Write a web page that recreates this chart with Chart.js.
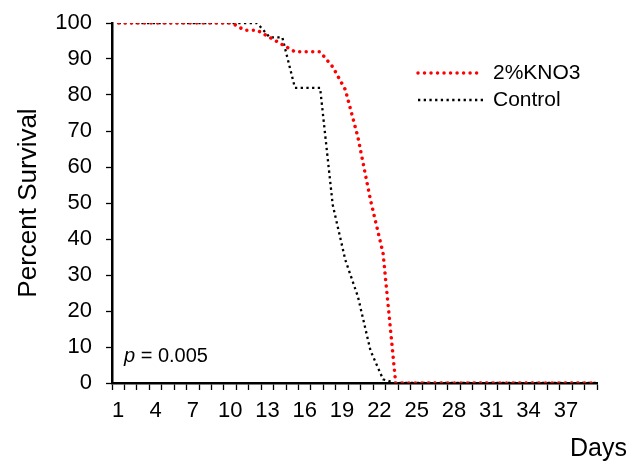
<!DOCTYPE html>
<html>
<head>
<meta charset="utf-8">
<script src="https://cdn.jsdelivr.net/npm/chart.js@4/dist/chart.umd.min.js"></script>
<style>
  html, body { margin: 0; padding: 0; background: #fff; }
</style>
</head>
<body>
<canvas id="myChart" width="633" height="464"></canvas>
<script>
const days = ['1', '2', '3', '4', '5', '6', '7', '8', '9', '10',
              '11', '12', '13', '14', '15', '16', '17', '18', '19', '20',
              '21', '22', '23', '24', '25', '26', '27', '28', '29', '30',
              '31', '32', '33', '34', '35', '36', '37', '38', '39'];

const kno3 = [100, 100, 100, 100, 100, 100, 100, 100, 100, 100,
              98, 98, 96, 94, 92, 92, 92, 87.8, 81.5, 68.3,
              50.8, 36, 0, 0, 0, 0, 0, 0, 0, 0,
              0, 0, 0, 0, 0, 0, 0, 0, 0];

const control = [100, 100, 100, 100, 100, 100, 100, 100, 100, 100,
                 100, 100, 96, 96, 82, 82, 82, 49.5, 34.2, 24,
                 9, 1, 0, 0, 0, 0, 0, 0, 0, 0,
                 0, 0, 0, 0, 0, 0, 0, 0, 0];

const seriesNames = ['2%KNO3', 'Control'];
const pValue = '0.005';

const FONT = "'Liberation Sans', Arial, sans-serif";

// points sit a little right of the category labels in the original,
// so the lines use a hidden linear axis running alongside the category one
const toPoints = values => values.map((v, i) => ({ x: Number(days[i]), y: v }));

// legend, x axis title and p value drawn by hand
const extrasPlugin = {
    id: 'extras',
    afterDraw(chart) {
        const ctx = chart.ctx;
        ctx.save();

        const rows = [{ y: 73, x2: 480 }, { y: 100, x2: 483 }];
        chart.data.datasets.forEach((ds, i) => {
            const r = rows[i];
            ctx.beginPath();
            ctx.strokeStyle = ds.borderColor;
            ctx.lineWidth = ds.borderWidth;
            ctx.lineCap = ds.borderCapStyle;
            ctx.setLineDash(ds.borderDash);
            ctx.moveTo(418, r.y);
            ctx.lineTo(r.x2, r.y);
            ctx.stroke();
            ctx.setLineDash([]);
            ctx.fillStyle = '#000';
            ctx.font = '21px ' + FONT;
            ctx.textBaseline = 'middle';
            ctx.textAlign = 'left';
            ctx.fillText(ds.label, 493, r.y);
        });

        ctx.fillStyle = '#000';
        ctx.textBaseline = 'alphabetic';
        ctx.font = '25px ' + FONT;
        ctx.fillText('Days', 570, 456);

        ctx.font = 'italic 20px ' + FONT;
        ctx.fillText('p', 124, 362);
        const pw = ctx.measureText('p').width;
        ctx.font = '20px ' + FONT;
        ctx.fillText(' = ' + pValue, 124 + pw, 362);

        ctx.restore();
    }
};

const ctx = document.getElementById('myChart').getContext('2d');
new Chart(ctx, {
    type: 'line',
    data: {
        labels: days,
        datasets: [{
            label: seriesNames[0],
            data: toPoints(kno3),
            xAxisID: 'xd',
            borderColor: '#ff0000',
            borderWidth: 3.5,
            borderDash: [0.01, 6.5],
            borderCapStyle: 'round',
            pointRadius: 0,
            tension: 0,
            fill: false
        }, {
            label: seriesNames[1],
            data: toPoints(control),
            xAxisID: 'xd',
            borderColor: '#000000',
            borderWidth: 2.3,
            borderDash: [2.3, 3.4],
            borderCapStyle: 'butt',
            pointRadius: 0,
            tension: 0,
            fill: false
        }]
    },
    options: {
        responsive: false,
        animation: false,
        devicePixelRatio: 1,
        layout: { padding: { top: 23, right: 36, bottom: 0, left: 0 } },
        plugins: {
            legend: { display: false },
            tooltip: { enabled: false }
        },
        scales: {
            x: {
                offset: true,
                grid: {
                    offset: true,
                    drawOnChartArea: false,
                    drawTicks: true,
                    tickLength: 7,
                    tickWidth: 1.3,
                    tickColor: '#000'
                },
                border: { display: true, color: '#000', width: 2.5 },
                ticks: {
                    autoSkip: false,
                    maxRotation: 0,
                    padding: 8,
                    color: '#000',
                    font: { family: FONT, size: 22 },
                    callback: function (value, index) {
                        return index % 3 === 0 ? this.getLabelForValue(value) : '';
                    }
                },
                afterFit(scale) {
                    scale.height = 81;
                    scale.paddingLeft = 0;
                    scale.paddingRight = 0;
                }
            },
            xd: {
                type: 'linear',
                display: false,
                min: 0.48,
                max: 38.98
            },
            y: {
                min: 0,
                max: 100,
                grid: {
                    drawOnChartArea: false,
                    drawTicks: true,
                    tickLength: 6,
                    tickWidth: 1.3,
                    tickColor: '#000'
                },
                border: { display: true, color: '#000', width: 2.5 },
                ticks: {
                    stepSize: 10,
                    padding: 14,
                    color: '#000',
                    font: { family: FONT, size: 22 }
                },
                title: {
                    display: true,
                    text: 'Percent Survival',
                    color: '#000',
                    font: { family: FONT, size: 26 },
                    padding: { top: 13, bottom: 0 }
                },
                afterFit(scale) {
                    scale.width = 112;
                    scale.paddingTop = 0;
                    scale.paddingBottom = 0;
                }
            }
        }
    },
    plugins: [extrasPlugin]
});
</script>
</body>
</html>
